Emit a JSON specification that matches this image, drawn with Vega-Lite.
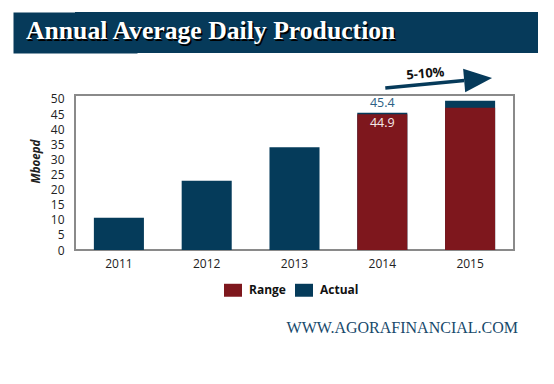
{
  "$schema": "https://vega.github.io/schema/vega-lite/v6.json",
  "background": "white",
  "padding": {"left": 12, "top": 12, "right": 0, "bottom": 0},
  "autosize": {"type": "pad"},
  "spacing": 12,
  "config": {"font": "Open Sans"},
  "vconcat": [
    {
      "width": 463,
      "height": 41,
      "view": {"fill": "#063a5a", "stroke": null},
      "data": {"values": [{"label": "Annual Average Daily Production"}]},
      "encoding": {
        "y": {"datum": 0.5, "type": "quantitative", "scale": {"domain": [0, 1], "nice": false},
              "axis": {"labels": false, "ticks": false, "grid": false, "title": null, "domain": true, "domainWidth": 124, "domainColor": "#063a5a", "domainCap": "butt"}},
        "text": {"field": "label"}
      },
      "layer": [
        {
          "mark": {"type": "text", "font": "Liberation Serif", "fontWeight": "bold", "fontSize": 25.7, "align": "left", "baseline": "alphabetic", "dx": -279, "dy": 8, "color": "#000000"}
        },
        {
          "mark": {"type": "text", "font": "Liberation Serif", "fontWeight": "bold", "fontSize": 25.7, "align": "left", "baseline": "alphabetic", "dx": -280.5, "dy": 6.5, "color": "#ffffff"}
        }
      ]
    },
    {
      "width": 439,
      "height": 155,
      "view": {"stroke": "#8a8a8a", "strokeWidth": 2},
      "title": {"text": "WWW.AGORAFINANCIAL.COM", "orient": "bottom", "anchor": "end", "font": "Liberation Serif", "fontSize": 16, "fontWeight": "normal", "color": "#17496b", "offset": 51, "baseline": "top", "dx": 4},
      "data": {"values": [
        {"year": 2011, "series": "Actual", "value": 10.7},
        {"year": 2012, "series": "Actual", "value": 22.9},
        {"year": 2013, "series": "Actual", "value": 34.0},
        {"year": 2014, "series": "Actual", "value": 45.4},
        {"year": 2015, "series": "Actual", "value": 49.4},
        {"year": 2014, "series": "Range", "value": 44.9},
        {"year": 2015, "series": "Range", "value": 47.1}
      ]},
      "layer": [
        {
          "mark": {"type": "bar"},
          "encoding": {
            "x": {"field": "year", "type": "ordinal", "scale": {"paddingInner": 0.43, "paddingOuter": 0.215},
                  "axis": {"title": null, "labelAngle": 0, "domain": false, "ticks": false, "labelPadding": 8, "labelFontSize": 12, "labelColor": "#222222"}},
            "y": {"field": "value", "type": "quantitative", "stack": null,
                  "scale": {"domain": [0, 51.3], "nice": false},
                  "axis": {"values": [0, 5, 10, 15, 20, 25, 30, 35, 40, 45, 50], "labelOverlap": false, "grid": false, "domain": true, "domainOpacity": 0, "offset": 62, "ticks": false, "labelPadding": -51, "labelFontSize": 12, "labelColor": "#222222", "title": "Mboepd", "titleX": 23, "titleY": 66, "titleAngle": -90, "titleAlign": "center", "titleBaseline": "middle", "titleFontStyle": "italic", "titleFontWeight": "bold", "titleFontSize": 11.5, "titleColor": "#222222"}},
            "color": {"field": "series", "type": "nominal",
                      "scale": {"domain": ["Range", "Actual"], "range": ["#7e171d", "#053b5a"]},
                      "legend": {"orient": "none", "legendX": 149, "legendY": 269, "direction": "horizontal", "title": null,
                                 "symbolType": "M-1,-0.72L1,-0.72L1,0.72L-1,0.72Z", "symbolSize": 324, "symbolStrokeWidth": 0,
                                 "labelFontSize": 12, "labelFontWeight": "bold", "labelOffset": 7, "columnPadding": 9, "labelColor": "#111111"}}
          }
        },
        {
          "transform": [{"filter": "datum.year == 2014 && datum.series == 'Actual'"}],
          "mark": {"type": "text", "baseline": "bottom", "dy": -3, "fontSize": 12.5, "color": "#2d5f85"},
          "encoding": {
            "x": {"field": "year", "type": "ordinal"},
            "y": {"field": "value", "type": "quantitative",
                  "axis": {"values": [0, 5, 10, 15, 20, 25, 30, 35, 40, 45, 50], "labelOverlap": false, "grid": false, "domain": true, "domainOpacity": 0, "offset": 62, "ticks": false, "labelPadding": -51, "labelFontSize": 12, "labelColor": "#222222", "title": "Mboepd", "titleX": 23, "titleY": 66, "titleAngle": -90, "titleAlign": "center", "titleBaseline": "middle", "titleFontStyle": "italic", "titleFontWeight": "bold", "titleFontSize": 11.5, "titleColor": "#222222"}},
            "text": {"field": "value", "type": "quantitative", "format": ".1f"}
          }
        },
        {
          "transform": [{"filter": "datum.year == 2014 && datum.series == 'Range'"}],
          "mark": {"type": "text", "baseline": "top", "dy": 3, "fontSize": 12.5, "color": "#f4e8e8"},
          "encoding": {
            "x": {"field": "year", "type": "ordinal"},
            "y": {"field": "value", "type": "quantitative",
                  "axis": {"values": [0, 5, 10, 15, 20, 25, 30, 35, 40, 45, 50], "labelOverlap": false, "grid": false, "domain": true, "domainOpacity": 0, "offset": 62, "ticks": false, "labelPadding": -51, "labelFontSize": 12, "labelColor": "#222222", "title": "Mboepd", "titleX": 23, "titleY": 66, "titleAngle": -90, "titleAlign": "center", "titleBaseline": "middle", "titleFontStyle": "italic", "titleFontWeight": "bold", "titleFontSize": 11.5, "titleColor": "#222222"}},
            "text": {"field": "value", "type": "quantitative", "format": ".1f"}
          }
        },
        {
          "data": {"values": [{"label": "5-10%"}]},
          "layer": [
            {
              "mark": {"type": "rule", "color": "#063a5a", "strokeWidth": 3.5},
              "encoding": {
                "x": {"datum": 2014, "type": "ordinal", "bandPosition": 0.56},
                "x2": {"datum": 2015, "bandPosition": 0.38},
                "y": {"datum": 53.6, "type": "quantitative",
                      "axis": {"values": [0, 5, 10, 15, 20, 25, 30, 35, 40, 45, 50], "labelOverlap": false, "grid": false, "domain": true, "domainOpacity": 0, "offset": 62, "ticks": false, "labelPadding": -51, "labelFontSize": 12, "labelColor": "#222222", "title": "Mboepd", "titleX": 23, "titleY": 66, "titleAngle": -90, "titleAlign": "center", "titleBaseline": "middle", "titleFontStyle": "italic", "titleFontWeight": "bold", "titleFontSize": 11.5, "titleColor": "#222222"}},
                "y2": {"datum": 56.1}
              }
            },
            {
              "mark": {"type": "point", "shape": "M-1,-0.85L1,0L-1,0.85Z", "filled": true, "size": 784, "angle": -5, "color": "#063a5a", "opacity": 1, "strokeWidth": 0},
              "encoding": {
                "x": {"datum": 2015, "type": "ordinal", "bandPosition": 0.66},
                "y": {"datum": 56.5, "type": "quantitative",
                      "axis": {"values": [0, 5, 10, 15, 20, 25, 30, 35, 40, 45, 50], "labelOverlap": false, "grid": false, "domain": true, "domainOpacity": 0, "offset": 62, "ticks": false, "labelPadding": -51, "labelFontSize": 12, "labelColor": "#222222", "title": "Mboepd", "titleX": 23, "titleY": 66, "titleAngle": -90, "titleAlign": "center", "titleBaseline": "middle", "titleFontStyle": "italic", "titleFontWeight": "bold", "titleFontSize": 11.5, "titleColor": "#222222"}}
              }
            },
            {
              "mark": {"type": "text", "angle": -5, "fontSize": 13, "fontWeight": "bold", "color": "#111111", "baseline": "middle"},
              "encoding": {
                "x": {"datum": 2014, "type": "ordinal", "bandPosition": 1.36},
                "y": {"datum": 58.3, "type": "quantitative",
                      "axis": {"values": [0, 5, 10, 15, 20, 25, 30, 35, 40, 45, 50], "labelOverlap": false, "grid": false, "domain": true, "domainOpacity": 0, "offset": 62, "ticks": false, "labelPadding": -51, "labelFontSize": 12, "labelColor": "#222222", "title": "Mboepd", "titleX": 23, "titleY": 66, "titleAngle": -90, "titleAlign": "center", "titleBaseline": "middle", "titleFontStyle": "italic", "titleFontWeight": "bold", "titleFontSize": 11.5, "titleColor": "#222222"}},
                "text": {"field": "label"}
              }
            }
          ]
        }
      ]
    }
  ]
}
